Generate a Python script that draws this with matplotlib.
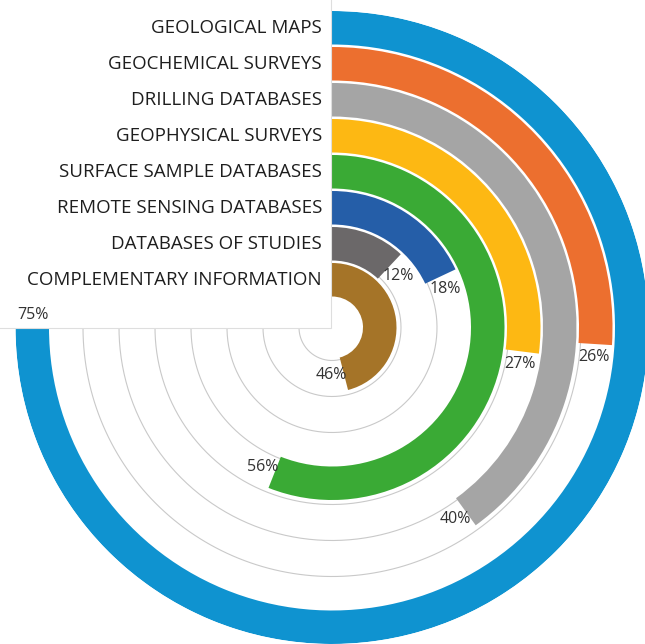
import numpy as np
import matplotlib.pyplot as plt
from matplotlib.patches import Rectangle

# Data (outer ring first)
categories = ['GEOLOGICAL MAPS', 'GEOCHEMICAL SURVEYS', 'DRILLING DATABASES',
              'GEOPHYSICAL SURVEYS', 'SURFACE SAMPLE DATABASES',
              'REMOTE SENSING DATABASES', 'DATABASES OF STUDIES',
              'COMPLEMENTARY INFORMATION']
percent = [75, 26, 40, 27, 56, 18, 12, 46]
colors = ['#0f93d0', '#ec6f2f', '#a5a5a5', '#fdb813',
          '#3aaa35', '#255ea8', '#6b6869', '#a57428']

plt.rcParams['font.family'] = ['Open Sans', 'DejaVu Sans']

# Layout in pixels
W, H = 645, 644
cx, cy = 332, 327.5          # chart centre (from top-left)
hole, pitch, ring = 31, 36, 33.5
R = hole + pitch * 7 + ring  # outer radius

fig = plt.figure(figsize=(W / 100, H / 100), dpi=100)
ax = fig.add_axes([(cx - R) / W, (H - cy - R) / H, 2 * R / W, 2 * R / H],
                  projection='polar')
ax.set_theta_zero_location('N')
ax.set_theta_direction(-1)
ax.set_ylim(0, R)
ax.set_axis_off()

# Thin grey guide circles (hidden under the bars where they run)
t = np.linspace(0, 2 * np.pi, 500)
for k in range(8):
    ax.plot(t, np.full_like(t, hole + k * pitch + 2), color='#c9c9c9',
            lw=0.8, zorder=1)

n = len(categories)
for i, (cat, p, c) in enumerate(zip(categories, percent, colors)):
    r0 = hole + (n - 1 - i) * pitch
    rmid = r0 + ring / 2
    ax.bar(0, ring, width=np.deg2rad(p * 3.6), bottom=r0, align='edge',
           color=c, edgecolor='none', zorder=2)
    # category label to the left of the 12 o'clock start
    ax.annotate(cat, xy=(0, rmid), xytext=(-10, 0), textcoords='offset pixels',
                ha='right', va='center', fontsize=13.5, color='#1e1e1e',
                zorder=7, annotation_clip=False)
    # value label just past the end of the bar
    th = np.deg2rad(p * 3.6) + 13 / rmid
    ax.text(th, rmid, f'{p}%', ha='center', va='center', fontsize=11.5,
            color='#333333', zorder=7)

# White panel hiding the upper-left quadrant
box = Rectangle((-0.01, (H - cy - 0.5) / H), (cx - 1) / W + 0.01, 1,
                transform=fig.transFigure, facecolor='white',
                edgecolor='#dedede', lw=0.8, zorder=5, clip_on=False)
ax.add_patch(box)

fig.savefig('out.png', dpi=100, facecolor='white')
